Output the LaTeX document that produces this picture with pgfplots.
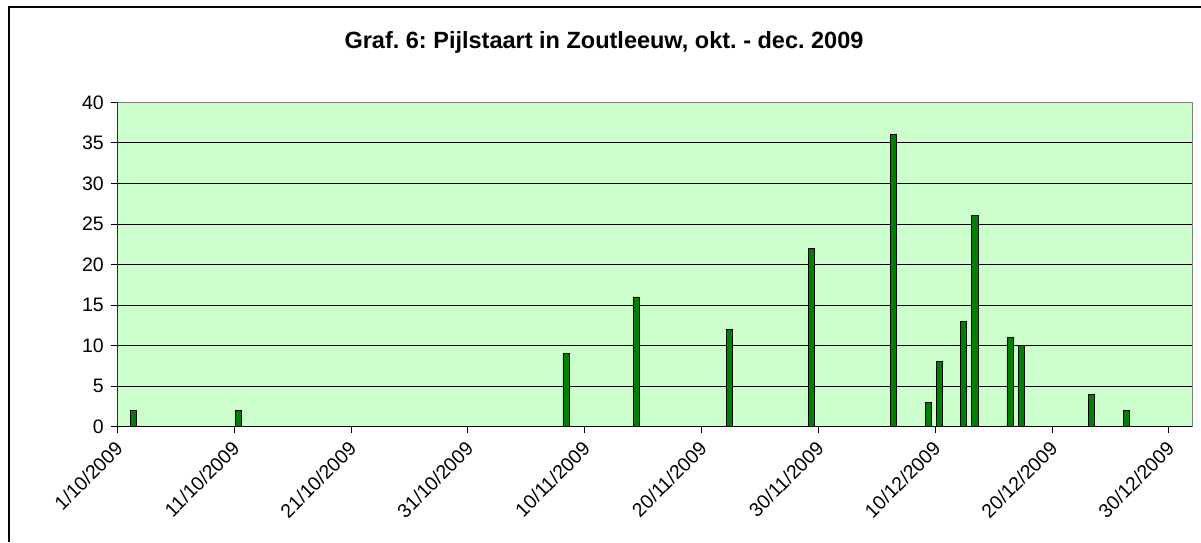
\documentclass[border=0pt]{standalone}
\usepackage{fontspec}
\setmainfont{Liberation Sans}
\usepackage{pgfplots}
\pgfplotsset{compat=1.18}
\definecolor{plotbg}{RGB}{204,255,204}
\definecolor{barfill}{RGB}{0,128,0}
\definecolor{framegray}{RGB}{128,128,128}
\frenchspacing
\begin{document}
\begin{tikzpicture}[x=1pt,y=1pt]
\useasboundingbox (0,0) rectangle (1201,542);
\draw[black,line width=1.2pt] (9,0) -- (9,535) -- (1201,535);
\node[anchor=base,font=\fontsize{23.5}{27}\selectfont\bfseries] at (604,493) {Graf. 6: Pijlstaart in Zoutleeuw, okt. - dec. 2009};
\begin{axis}[
  at={(117.3pt,115.3pt)}, anchor=south west,
  scale only axis, width=1075pt, height=324.4pt,
  xmin=0, xmax=92, ymin=0, ymax=40,
  xtick={0,10,...,90},
  xticklabels={1/10/2009,11/10/2009,21/10/2009,31/10/2009,10/11/2009,20/11/2009,30/11/2009,10/12/2009,20/12/2009,30/12/2009},
  ytick={0,5,...,40},
  tick align=outside, major tick length=6pt,
  xtick pos=bottom, ytick pos=left,
  tick style={black, line width=0.8pt},
  axis line style={framegray, line width=1pt},
  ymajorgrids, major grid style={black, line width=0.8pt},
  axis background/.style={fill=plotbg},
  /pgf/number format/assume math mode=true,
  tick label style={font=\fontsize{19.5}{23}\selectfont, black},
  yticklabel style={xshift=-4pt},
  xticklabel style={rotate=45, anchor=east, xshift=-4pt, yshift=-10pt},
  ybar, bar width=0.52,
]
\addplot[fill=barfill, draw=black, line width=0.8pt] coordinates {
(1.4,2) (10.4,2) (38.4,9) (44.4,16) (52.4,12) (59.4,22) (66.4,36)
(69.4,3) (70.4,8) (72.4,13) (73.4,26) (76.4,11) (77.4,10) (83.4,4) (86.4,2)
};
\draw[black, line width=1pt] (rel axis cs:0,1) -- (rel axis cs:0,0) -- (rel axis cs:1,0);
\end{axis}
\end{tikzpicture}
\end{document}
